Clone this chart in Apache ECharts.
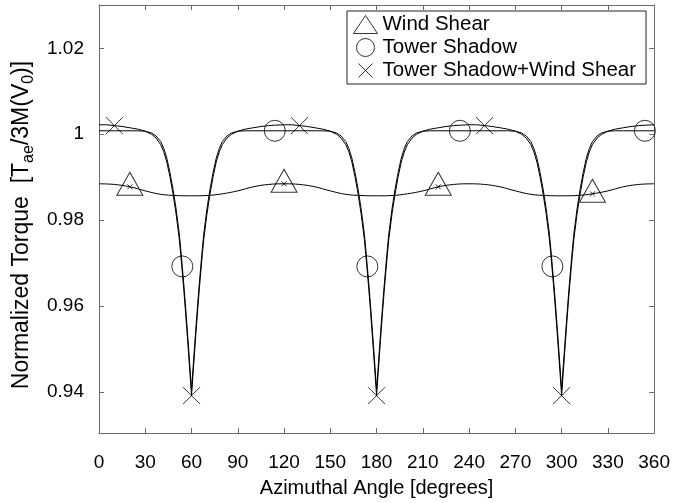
<!DOCTYPE html>
<html>
<head>
<meta charset="utf-8">
<script src="https://cdn.jsdelivr.net/npm/echarts@6/dist/echarts.min.js"></script>
<style>
  html, body { margin: 0; padding: 0; background: #fff; }
  #chart { width: 673px; height: 503px; }
</style>
</head>
<body>
<div id="chart"></div>
<script>
// Azimuth samples (degrees) shared by the tower-shadow curves
const angles = [
  0, 5, 10, 15, 20, 25,
  30, 34, 37, 40, 42, 44, 46, 48, 50, 52, 53, 54, 55, 56, 57, 58, 59, 60, 61, 62, 63, 64, 65, 66, 67, 68, 70, 72, 74, 76, 78, 80, 83, 86, 90,
  95, 100, 105, 110, 114, 120, 125, 130, 135, 140, 145,
  150, 154, 157, 160, 162, 164, 166, 168, 170, 172, 173, 174, 175, 176, 177, 178, 179, 180, 181, 182, 183, 184, 185, 186, 187, 188, 190, 192, 194, 196, 198, 200, 203, 206, 210,
  215, 220, 225, 230, 234, 240, 245, 250, 255, 260, 265,
  270, 274, 277, 280, 282, 284, 286, 288, 290, 292, 293, 294, 295, 296, 297, 298, 299, 300, 301, 302, 303, 304, 305, 306, 307, 308, 310, 312, 314, 316, 318, 320, 323, 326, 330,
  335, 340, 345, 350, 354, 360
];

// Tower shadow only
const towerShadow = [
  1.0008, 1.0008, 1.0008, 1.0008, 1.0008, 1.0008,
  1.0007, 1.0003, 0.9996, 0.9983, 0.9967, 0.9944, 0.9911, 0.9872, 0.9826, 0.9770, 0.9733, 0.9692, 0.9650, 0.9605, 0.9557, 0.9507, 0.9456,
  0.9405,
  0.9456, 0.9507, 0.9557, 0.9605, 0.9650, 0.9692, 0.9733, 0.9770,
  0.9826, 0.9872, 0.9911, 0.9944, 0.9967, 0.9983, 0.9996, 1.0003, 1.0007,
  1.0008, 1.0008, 1.0008, 1.0008, 1.0008, 1.0008, 1.0008, 1.0008, 1.0008, 1.0008, 1.0008,
  1.0007, 1.0003, 0.9996, 0.9983, 0.9967, 0.9944, 0.9911, 0.9872, 0.9826, 0.9770, 0.9733, 0.9692, 0.9650, 0.9605, 0.9557, 0.9507, 0.9456,
  0.9405,
  0.9456, 0.9507, 0.9557, 0.9605, 0.9650, 0.9692, 0.9733, 0.9770,
  0.9826, 0.9872, 0.9911, 0.9944, 0.9967, 0.9983, 0.9996, 1.0003, 1.0007,
  1.0008, 1.0008, 1.0008, 1.0008, 1.0008, 1.0008, 1.0008, 1.0008, 1.0008, 1.0008, 1.0008,
  1.0007, 1.0003, 0.9996, 0.9983, 0.9967, 0.9944, 0.9911, 0.9872, 0.9826, 0.9770, 0.9733, 0.9692, 0.9650, 0.9605, 0.9557, 0.9507, 0.9456,
  0.9405,
  0.9456, 0.9507, 0.9557, 0.9605, 0.9650, 0.9692, 0.9733, 0.9770,
  0.9826, 0.9872, 0.9911, 0.9944, 0.9967, 0.9983, 0.9996, 1.0003, 1.0007,
  1.0008, 1.0008, 1.0008, 1.0008, 1.0008, 1.0008
];

// Tower shadow combined with wind shear
const shadowShear = [
  1.0022, 1.0022, 1.0020, 1.0018, 1.0015, 1.0012,
  1.0007, 1.0000, 0.9991, 0.9976, 0.9959, 0.9935, 0.9901, 0.9861, 0.9814, 0.9757, 0.9720, 0.9679, 0.9637, 0.9591, 0.9543, 0.9493, 0.9442,
  0.9391,
  0.9442, 0.9493, 0.9543, 0.9591, 0.9637, 0.9679, 0.9720, 0.9757,
  0.9814, 0.9861, 0.9901, 0.9935, 0.9959, 0.9976, 0.9991, 1.0000, 1.0007,
  1.0012, 1.0015, 1.0018, 1.0020, 1.0021, 1.0022, 1.0022, 1.0020, 1.0018, 1.0015, 1.0012,
  1.0007, 1.0000, 0.9991, 0.9976, 0.9959, 0.9935, 0.9901, 0.9861, 0.9814, 0.9757, 0.9720, 0.9679, 0.9637, 0.9591, 0.9543, 0.9493, 0.9442,
  0.9391,
  0.9442, 0.9493, 0.9543, 0.9591, 0.9637, 0.9679, 0.9720, 0.9757,
  0.9814, 0.9861, 0.9901, 0.9935, 0.9959, 0.9976, 0.9991, 1.0000, 1.0007,
  1.0012, 1.0015, 1.0018, 1.0020, 1.0021, 1.0022, 1.0022, 1.0020, 1.0018, 1.0015, 1.0012,
  1.0007, 1.0000, 0.9991, 0.9976, 0.9959, 0.9935, 0.9901, 0.9861, 0.9814, 0.9757, 0.9720, 0.9679, 0.9637, 0.9591, 0.9543, 0.9493, 0.9442,
  0.9391,
  0.9442, 0.9493, 0.9543, 0.9591, 0.9637, 0.9679, 0.9720, 0.9757,
  0.9814, 0.9861, 0.9901, 0.9935, 0.9959, 0.9976, 0.9991, 1.0000, 1.0007,
  1.0012, 1.0015, 1.0018, 1.0020, 1.0021, 1.0022
];

// Wind shear only, every 10 degrees
const shearAngles = [
  0, 10, 20, 30, 40, 50, 60, 70, 80, 90, 100, 110,
  120, 130, 140, 150, 160, 170, 180, 190, 200, 210, 220, 230,
  240, 250, 260, 270, 280, 290, 300, 310, 320, 330, 340, 350, 360
];
const windShear = [
  0.98845, 0.98830, 0.98775, 0.98680, 0.98600, 0.98572, 0.98565, 0.98572, 0.98612, 0.98680, 0.98775, 0.98830,
  0.98845, 0.98830, 0.98775, 0.98680, 0.98600, 0.98572, 0.98565, 0.98572, 0.98612, 0.98680, 0.98775, 0.98830,
  0.98845, 0.98830, 0.98775, 0.98680, 0.98600, 0.98572, 0.98565, 0.98572, 0.98612, 0.98680, 0.98775, 0.98830,
  0.98845
];

// Angles where each curve carries a marker
const shearMarkAngles = [20, 120, 220, 320];
const shadowMarkAngles = [54, 114, 174, 234, 294, 354];
const comboMarkAngles = [10, 60, 130, 180, 250, 300];

// Axis ticks
const xTicks = [0, 30, 60, 90, 120, 150, 180, 210, 240, 270, 300, 330, 360];
const yTicks = [0.94, 0.96, 0.98, 1, 1.02];

const names = ['Wind Shear', 'Tower Shadow', 'Tower Shadow+Wind Shear'];

function pairs(xs, ys) { return xs.map((x, i) => [x, ys[i]]); }
function pick(xs, ys, marks) { return marks.map(a => [a, ys[xs.indexOf(a)]]); }

const FONT = 'Liberation Sans, Arial, sans-serif';
const AXIS_GREY = '#6b6b6b';
const crossPath = 'path://M0,0L14,14M14,0L0,14';
const crossLegend = 'path://M0,0M24,18M5,2L19,16M19,2L5,16';
const hollow = { color: 'transparent', borderColor: '#000', borderWidth: 1 };

function frameAxis(pos, isX, show) {
  const a = {
    type: 'value',
    position: pos,
    min: isX ? 0 : 0.9304,
    max: isX ? 360 : 1.0301,
    axisLine: { show: true, onZero: false, lineStyle: { color: AXIS_GREY, width: 1 } },
    axisTick: { show: true, inside: true, length: 5, lineStyle: { color: AXIS_GREY } },
    axisLabel: { show: show, color: '#000', fontSize: 19, fontFamily: FONT },
    splitLine: { show: false }
  };
  if (isX) {
    a.interval = 30;
    a.axisLabel.customValues = xTicks;
    a.axisLabel.margin = 20;
  } else {
    a.axisTick.customValues = yTicks;
    a.axisLabel.customValues = yTicks;
    a.axisLabel.margin = 15;
  }
  return a;
}

const xBottom = frameAxis('bottom', true, true);
xBottom.name = 'Azimuthal Angle [degrees]';
xBottom.nameLocation = 'middle';
xBottom.nameGap = 45;
xBottom.nameTextStyle = { color: '#000', fontSize: 20, fontFamily: FONT };

const yLeft = frameAxis('left', false, true);
yLeft.name = 'Normalized Torque  [T{s|ae}/3M(V{s|0})]';
yLeft.nameLocation = 'middle';
yLeft.nameGap = 57;
yLeft.nameTextStyle = {
  color: '#000', fontSize: 23, fontFamily: FONT, lineHeight: 28,
  padding: [0, 12, 0, 0],
  rich: { s: { fontSize: 16, fontFamily: FONT, color: '#000', lineHeight: 16, verticalAlign: 'bottom' } }
};

const chart = echarts.init(document.getElementById('chart'), null, { renderer: 'canvas' });
chart.setOption({
  animation: false,
  backgroundColor: '#fff',
  grid: { left: 99, right: 18, top: 5, bottom: 61 },
  xAxis: [xBottom, frameAxis('top', true, false)],
  yAxis: [yLeft, frameAxis('right', false, false)],
  legend: {
    left: 347, top: 11,
    orient: 'vertical',
    backgroundColor: '#fff',
    borderColor: '#222', borderWidth: 1,
    padding: [3, 10, 3, 6],
    itemWidth: 24, itemHeight: 18, itemGap: 2,
    itemStyle: hollow,
    textStyle: { color: '#000', fontSize: 20.5, fontFamily: FONT },
    data: [
      { name: names[0], icon: 'triangle' },
      { name: names[1], icon: 'circle' },
      { name: names[2], icon: crossLegend }
    ],
    selectedMode: false
  },
  series: [
    {
      name: names[0], type: 'scatter', data: pick(shearAngles, windShear, shearMarkAngles),
      symbol: 'triangle', symbolSize: [26, 23], symbolOffset: [0, -3], itemStyle: hollow, z: 5, silent: true
    },
    {
      name: 'shear-points', type: 'scatter', data: pick(shearAngles, windShear, shearMarkAngles),
      symbol: crossPath, symbolSize: 5, itemStyle: hollow, z: 5, silent: true
    },
    {
      name: names[1], type: 'scatter', data: pick(angles, towerShadow, shadowMarkAngles),
      symbol: 'circle', symbolSize: 21, itemStyle: hollow, z: 5, silent: true
    },
    {
      name: names[2], type: 'scatter', data: pick(angles, shadowShear, comboMarkAngles),
      symbol: crossPath, symbolSize: 17, itemStyle: hollow, z: 5, silent: true
    },
    {
      name: names[0], type: 'line', data: pairs(shearAngles, windShear), smooth: 0.4,
      showSymbol: false, symbol: 'none', lineStyle: { color: '#000', width: 1 }, silent: true
    },
    {
      name: names[1], type: 'line', data: pairs(angles, towerShadow),
      showSymbol: false, symbol: 'none', lineStyle: { color: '#000', width: 1 }, silent: true
    },
    {
      name: names[2], type: 'line', data: pairs(angles, shadowShear),
      showSymbol: false, symbol: 'none', lineStyle: { color: '#000', width: 1 }, silent: true
    }
  ]
});
</script>
</body>
</html>
